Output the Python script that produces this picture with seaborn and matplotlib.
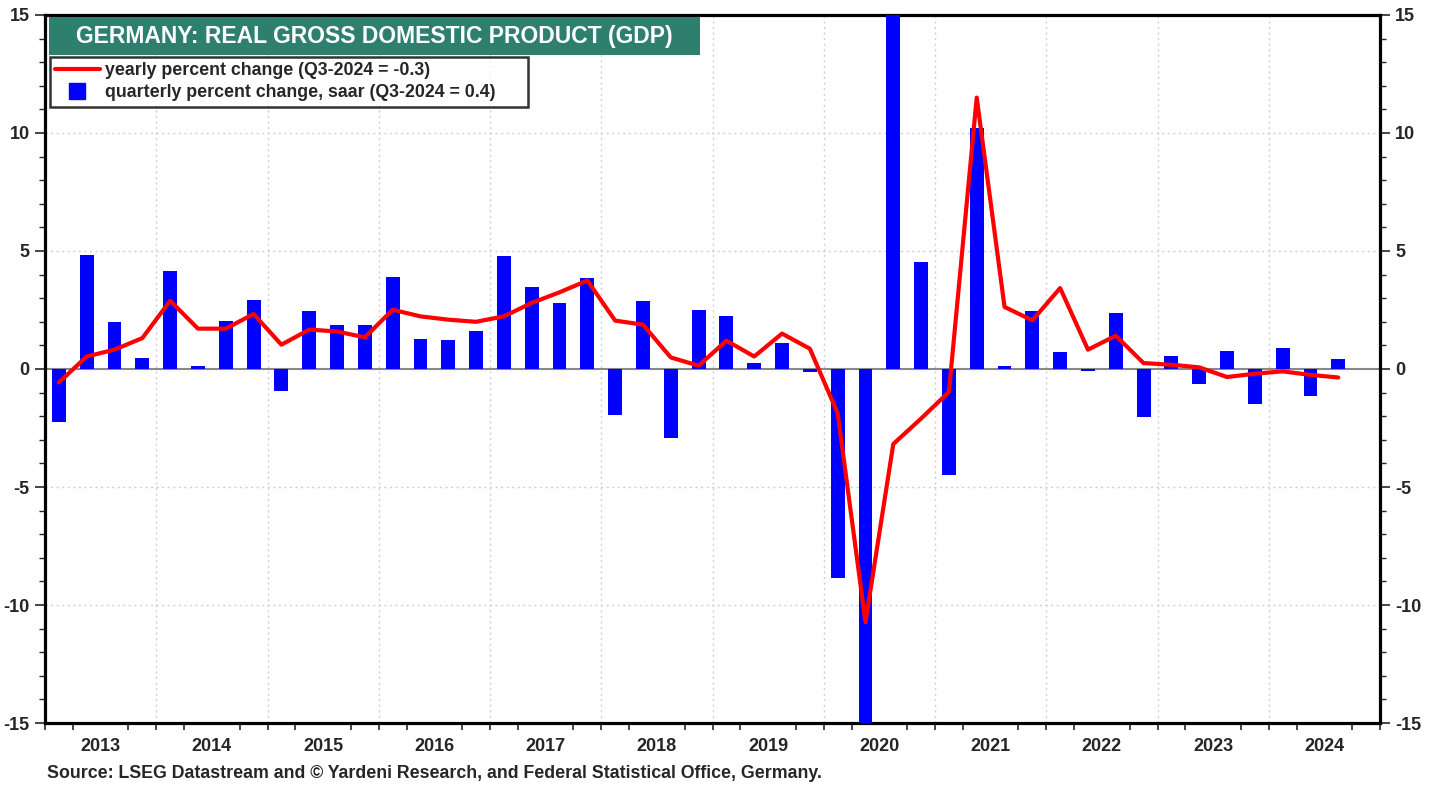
import numpy as np
import pandas as pd
import matplotlib

matplotlib.use('Agg')
import matplotlib.pyplot as plt
import seaborn as sns
from matplotlib.patches import Rectangle
from matplotlib.lines import Line2D

##################### data
quarters = pd.period_range('2013Q1', '2024Q3', freq='Q')
# quarterly percent change, saar
qoq = [-2.25, 4.84, 1.99, 0.47,
       4.17, 0.14, 2.05, 2.94,
       -0.92, 2.47, 1.85, 1.85,
       3.88, 1.28, 1.23, 1.61,
       4.80, 3.46, 2.80, 3.84,
       -1.95, 2.89, -2.91, 2.51,
       2.23, 0.27, 1.09, -0.14,
       -8.84, -33.0, 39.0, 4.55,
       -4.48, 10.2, 0.13, 2.46,
       0.70, -0.10, 2.36, -2.03,
       0.55, -0.62, 0.75, -1.48,
       0.89, -1.15, 0.42]
# yearly percent change
yoy = [-0.57, 0.53, 0.82, 1.31,
       2.89, 1.71, 1.71, 2.33,
       1.03, 1.67, 1.59, 1.34,
       2.51, 2.23, 2.09, 2.00,
       2.23, 2.80, 3.25, 3.75,
       2.05, 1.88, 0.49, 0.14,
       1.20, 0.53, 1.50, 0.86,
       -1.87, -10.73, -3.18, -2.10,
       -0.97, 11.5, 2.63, 2.06,
       3.43, 0.82, 1.41, 0.25,
       0.18, 0.07, -0.34, -0.20,
       -0.10, -0.25, -0.36]
years = list(range(2013, 2025))
year_labels = [str(y) for y in years]

title = 'GERMANY: REAL GROSS DOMESTIC PRODUCT (GDP)'
lab_yoy = 'yearly percent change (Q3-2024 = -0.3)'
lab_qoq = 'quarterly percent change, saar (Q3-2024 = 0.4)'
source = 'Source: LSEG Datastream and \u00a9 Yardeni Research, and Federal Statistical Office, Germany.'

# decimal year at the middle of each quarter
xq = np.array([q.year + (q.quarter - 1) * 0.25 + 0.125 for q in quarters])
df = pd.DataFrame({'x': xq, 'qoq': qoq, 'yoy': yoy})

sns.set_style('white')
plt.rcParams['font.family'] = ['Liberation Sans', 'DejaVu Sans']
plt.rcParams['font.weight'] = 'bold'
plt.rcParams['axes.unicode_minus'] = False

fig = plt.figure(figsize=[14.38, 7.87], dpi=100)
ax = fig.add_axes([45 / 1438, 64 / 787, 1335 / 1438, 708 / 787])

sns.barplot(data=df, x='x', y='qoq', native_scale=True, color='#0000ff', saturation=1,
            width=0.5, linewidth=0, errorbar=None, ax=ax, zorder=3)
sns.lineplot(data=df, x='x', y='yoy', color='#ff0000', lw=3.0, ax=ax, zorder=4)

ax.set_xlim(2013, 2025)
ax.set_ylim(-15, 15)

# grid
for y in years[1:]:
    ax.axvline(y, color='#cfcfcf', lw=1.0, ls=(0, (1.5, 2.5)), zorder=1)
for v in [-10, -5, 5, 10]:
    ax.axhline(v, color='#cfcfcf', lw=1.0, ls=(0, (1.5, 2.5)), zorder=1)
ax.axhline(0, color='#888888', lw=1.5, zorder=2)

# ticks
ax.set_xticks([y + 0.5 for y in years], year_labels)
ax.set_xticks(np.arange(2013, 2025.01, 0.25), minor=True)
ax.tick_params(axis='x', which='major', length=0, pad=11, labelsize=13)
ax.tick_params(axis='x', which='minor', length=5, width=1.2, direction='out', bottom=True)
ax.set_yticks(np.arange(-15, 16, 5))
ax.set_yticks(np.arange(-15, 16, 1), minor=True)
ax.tick_params(axis='y', which='major', length=7, width=1.2, direction='out',
               left=True, right=True, labelleft=True, labelright=True, labelsize=13, pad=4)
ax.tick_params(axis='y', which='minor', length=4, width=1.0, direction='out', left=True, right=True)
for lab in ax.get_xticklabels() + ax.get_yticklabels():
    lab.set_fontweight('bold')
ax.set_xlabel('')
ax.set_ylabel('')
for sp in ax.spines.values():
    sp.set_visible(True)
    sp.set_color('black')
    sp.set_linewidth(2.3)

# title box
ax.add_patch(Rectangle((0.003, 0.9435), 0.488, 0.053, transform=ax.transAxes,
                       facecolor='#2f7f6f', edgecolor='none', zorder=5))
ax.text(0.247, 0.970, title, transform=ax.transAxes, ha='center', va='center',
        color='white', fontsize=16.5, fontweight='bold', zorder=6)

# legend
handles = [Line2D([0], [0], color='#ff0000', lw=3.0),
           Line2D([0], [0], marker='s', color='none', markerfacecolor='#0000ff',
                  markeredgecolor='#0000ff', markersize=11)]
leg = ax.legend(handles, [lab_yoy, lab_qoq], loc='upper left',
                bbox_to_anchor=(0.0037, 0.941, 0.358, 0.0), mode='expand',
                borderaxespad=0, frameon=True, fancybox=False, prop={'size': 12.8, 'weight': 'bold'},
                handlelength=2.5, handletextpad=0.3, labelspacing=0.3, borderpad=0.3)
leg.get_frame().set_edgecolor('black')
leg.get_frame().set_linewidth(1.8)
leg.set_zorder(6)

fig.text(47 / 1438, 1 - 773 / 787, source, ha='left', va='center', fontsize=12.8, fontweight='bold')

fig.savefig('out.png', dpi=100)
